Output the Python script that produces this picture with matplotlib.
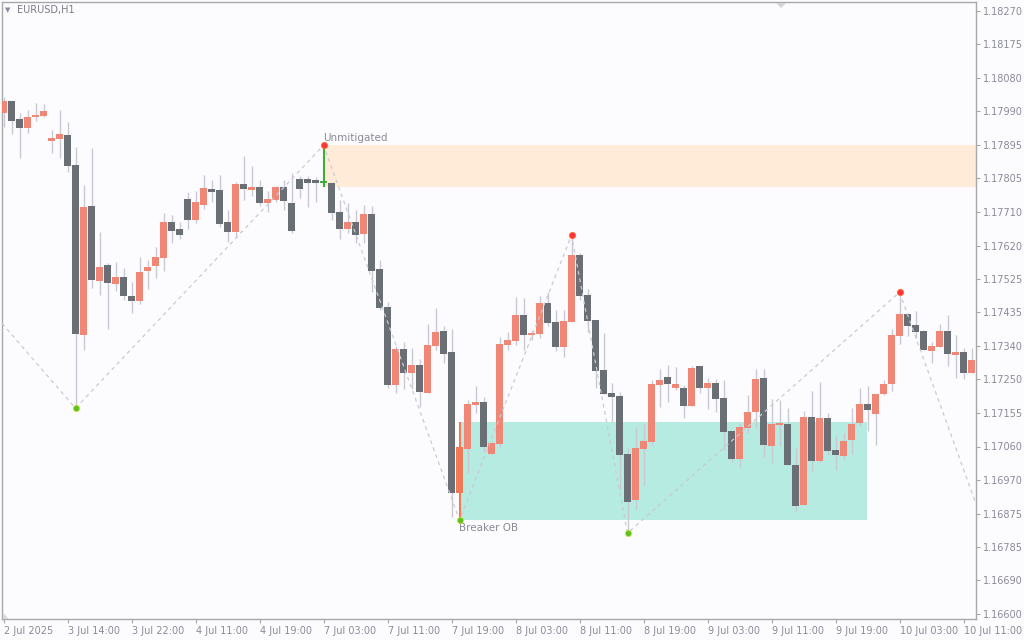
import matplotlib
matplotlib.use("Agg")
from matplotlib import pyplot as plt
from matplotlib.patches import Rectangle, Polygon
import numpy as np

# EURUSD H1 candles
opens = [1.17987, 1.18020, 1.17970, 1.17945, 1.17976, 1.17979, 1.17909, 1.17915, 1.17926, 1.17843,
         1.17372, 1.17729, 1.17522, 1.17566, 1.17513, 1.17533, 1.17480, 1.17466, 1.17549, 1.17563,
         1.17585, 1.17685, 1.17666, 1.17749, 1.17691, 1.17732, 1.17776, 1.17774, 1.17685, 1.17657,
         1.17790, 1.17774, 1.17782, 1.17738, 1.17746, 1.17782, 1.17738, 1.17804, 1.17804, 1.17801,
         1.17793, 1.17793, 1.17713, 1.17666, 1.17685, 1.17652, 1.17707, 1.17555, 1.17450, 1.17234,
         1.17333, 1.17267, 1.17289, 1.17211, 1.17342, 1.17383, 1.17325, 1.16934, 1.17056, 1.17178,
         1.17186, 1.17042, 1.17070, 1.17344, 1.17355, 1.17427, 1.17372, 1.17375, 1.17461, 1.17408,
         1.17339, 1.17408, 1.17594, 1.17483, 1.17414, 1.17275, 1.17211, 1.17203, 1.17042, 1.16915,
         1.17056, 1.17076, 1.17234, 1.17256, 1.17225, 1.17225, 1.17175, 1.17286, 1.17225, 1.17239,
         1.17198, 1.17106, 1.17029, 1.17114, 1.17159, 1.17253, 1.17065, 1.17123, 1.17126, 1.17012,
         1.16901, 1.17145, 1.17023, 1.17142, 1.17054, 1.17037, 1.17081, 1.17128, 1.17181, 1.17153,
         1.17209, 1.17236, 1.17369, 1.17430, 1.17400, 1.17383, 1.17328, 1.17339, 1.17383, 1.17317,
         1.17325, 1.17267]
highs = [1.18031, 1.18020, 1.17987, 1.17995, 1.18015, 1.18012, 1.17940, 1.17995, 1.17962, 1.17893,
         1.17788, 1.17890, 1.17657, 1.17571, 1.17574, 1.17558, 1.17519, 1.17588, 1.17580, 1.17616,
         1.17710, 1.17704, 1.17685, 1.17768, 1.17771, 1.17815, 1.17801, 1.17815, 1.17718, 1.17796,
         1.17868, 1.17840, 1.17801, 1.17771, 1.17785, 1.17801, 1.17821, 1.17812, 1.17812, 1.17810,
         1.17898, 1.17796, 1.17746, 1.17738, 1.17718, 1.17732, 1.17729, 1.17580, 1.17463, 1.17342,
         1.17353, 1.17336, 1.17306, 1.17403, 1.17447, 1.17397, 1.17389, 1.17131, 1.17192, 1.17231,
         1.17200, 1.17076, 1.17367, 1.17380, 1.17477, 1.17475, 1.17386, 1.17480, 1.17491, 1.17441,
         1.17441, 1.17649, 1.17599, 1.17499, 1.17414, 1.17378, 1.17239, 1.17214, 1.17059, 1.17117,
         1.17126, 1.17247, 1.17278, 1.17289, 1.17283, 1.17234, 1.17286, 1.17286, 1.17253, 1.17250,
         1.17247, 1.17106, 1.17128, 1.17206, 1.17278, 1.17278, 1.17195, 1.17192, 1.17170, 1.17059,
         1.17162, 1.17217, 1.17242, 1.17156, 1.17092, 1.17101, 1.17170, 1.17225, 1.17231, 1.17209,
         1.17247, 1.17389, 1.17491, 1.17433, 1.17439, 1.17386, 1.17353, 1.17403, 1.17427, 1.17372,
         1.17336, 1.17336]
lows = [1.17948, 1.17929, 1.17862, 1.17932, 1.17965, 1.17976, 1.17876, 1.17862, 1.17824, 1.17170,
        1.17330, 1.17502, 1.17483, 1.17389, 1.17494, 1.17469, 1.17433, 1.17458, 1.17499, 1.17530,
        1.17549, 1.17627, 1.17638, 1.17666, 1.17682, 1.17721, 1.17740, 1.17671, 1.17630, 1.17644,
        1.17746, 1.17757, 1.17729, 1.17713, 1.17740, 1.17718, 1.17655, 1.17752, 1.17727, 1.17740,
        1.17782, 1.17691, 1.17638, 1.17655, 1.17627, 1.17627, 1.17491, 1.17441, 1.17225, 1.17211,
        1.17222, 1.17222, 1.17173, 1.17211, 1.17330, 1.17294, 1.16868, 1.16860, 1.16990, 1.17156,
        1.17048, 1.17042, 1.17062, 1.17330, 1.17344, 1.17330, 1.17358, 1.17364, 1.17397, 1.17328,
        1.17311, 1.17408, 1.17469, 1.17380, 1.17225, 1.17209, 1.17131, 1.16943, 1.16824, 1.16890,
        1.16957, 1.17067, 1.17173, 1.17186, 1.17220, 1.17142, 1.17175, 1.17211, 1.17167, 1.17159,
        1.17054, 1.17020, 1.17006, 1.17101, 1.17114, 1.17034, 1.17017, 1.17065, 1.17012, 1.16885,
        1.16901, 1.16995, 1.17020, 1.17040, 1.16998, 1.17029, 1.17042, 1.17120, 1.17106, 1.17067,
        1.17206, 1.17217, 1.17347, 1.17369, 1.17364, 1.17330, 1.17294, 1.17339, 1.17286, 1.17253,
        1.17250, 1.17267]
closes = [1.18020, 1.17965, 1.17945, 1.17976, 1.17981, 1.17993, 1.17918, 1.17929, 1.17840, 1.17375,
          1.17727, 1.17524, 1.17560, 1.17516, 1.17533, 1.17480, 1.17466, 1.17547, 1.17560, 1.17588,
          1.17685, 1.17660, 1.17649, 1.17691, 1.17740, 1.17779, 1.17768, 1.17680, 1.17657, 1.17790,
          1.17776, 1.17782, 1.17738, 1.17749, 1.17782, 1.17743, 1.17660, 1.17776, 1.17793, 1.17793,
          1.17799, 1.17710, 1.17666, 1.17685, 1.17649, 1.17707, 1.17549, 1.17447, 1.17234, 1.17333,
          1.17267, 1.17289, 1.17214, 1.17344, 1.17380, 1.17319, 1.16934, 1.17062, 1.17181, 1.17186,
          1.17062, 1.17073, 1.17347, 1.17358, 1.17427, 1.17372, 1.17378, 1.17461, 1.17405, 1.17339,
          1.17411, 1.17594, 1.17480, 1.17411, 1.17272, 1.17209, 1.17200, 1.17040, 1.16909, 1.17059,
          1.17078, 1.17236, 1.17247, 1.17236, 1.17236, 1.17175, 1.17281, 1.17225, 1.17239, 1.17195,
          1.17103, 1.17029, 1.17117, 1.17159, 1.17250, 1.17067, 1.17126, 1.17128, 1.17012, 1.16898,
          1.17145, 1.17023, 1.17142, 1.17051, 1.17040, 1.17078, 1.17126, 1.17181, 1.17164, 1.17209,
          1.17236, 1.17372, 1.17430, 1.17397, 1.17380, 1.17330, 1.17342, 1.17383, 1.17319, 1.17325,
          1.17267, 1.17303]

price_labels = ["1.16600", "1.16690", "1.16785", "1.16875", "1.16970", "1.17060", "1.17155",
                "1.17250", "1.17340", "1.17435", "1.17525", "1.17620", "1.17710", "1.17805",
                "1.17895", "1.17990", "1.18080", "1.18175", "1.18270"]
time_ticks = [0, 8, 16, 24, 32, 40, 48, 56, 64, 72, 80, 88, 96, 104, 112, 120]
time_labels = ["2 Jul 2025", "3 Jul 14:00", "3 Jul 22:00", "4 Jul 11:00", "4 Jul 19:00",
               "7 Jul 03:00", "7 Jul 11:00", "7 Jul 19:00", "8 Jul 03:00", "8 Jul 11:00",
               "8 Jul 19:00", "9 Jul 03:00", "9 Jul 11:00", "9 Jul 19:00", "10 Jul 03:00",
               "10 Jul 11:00"]

# zigzag swings
swing_highs = [40, 71, 112]
swing_lows = [9, 57, 78]
zz_start = 1.17405   # leg coming in from the left edge
zz_end = 1.16905     # leg leaving at the right edge

unmitigated_bar = 40
breaker_bar = 57
breaker_end = 107.9

SALMON = "#EF8676"
GRAY = "#6A6E75"
WICK = "#C8C9D2"
GREEN = "#3DAE3D"
ORANGE = "#F07A55"
TXT = "#8A8A96"
BG = "#FCFCFE"

o = np.array(opens)
h = np.array(highs)
l = np.array(lows)
c = np.array(closes)
n = len(o)
x = np.arange(n)

body_col = [SALMON if c[i] >= o[i] else GRAY for i in range(n)]
wick_col = [WICK] * n
body_col[unmitigated_bar] = GREEN
wick_col[unmitigated_bar] = GREEN
body_col[breaker_bar] = ORANGE
wick_col[breaker_bar] = ORANGE

fig = plt.figure(figsize=(10.24, 6.4), dpi=100, facecolor=BG)
ax = fig.add_axes([2 / 1024, 21 / 640, 974 / 1024, 617 / 640])
ax.set_facecolor(BG)

xmin, xmax = -0.1875, 121.5625
pp = (1.18270 - 1.16600) / 603
ax.set_xlim(xmin, xmax)
ax.set_ylim(1.16600 - 5 * pp, 1.18270 + 9 * pp)

# zones
ax.add_patch(Rectangle((unmitigated_bar, l[unmitigated_bar]), xmax - unmitigated_bar,
                       h[unmitigated_bar] - l[unmitigated_bar], color="#FFEBD7", lw=0, zorder=0))
ax.add_patch(Rectangle((breaker_bar, l[breaker_bar]), breaker_end - breaker_bar,
                       h[breaker_bar] - l[breaker_bar], color="#B5EBE1", lw=0, zorder=0))

# candles
lw = [1.5 if i in (unmitigated_bar, breaker_bar) else 1.0 for i in range(n)]
ax.vlines(x, l, h, colors=wick_col, linewidths=lw, zorder=2)
bottom = np.minimum(o, c)
height = np.maximum(np.abs(c - o), 0.6 * pp)
ax.bar(x, height, bottom=bottom, width=0.86, color=body_col, linewidth=0, zorder=3)

# zigzag
zz_x = [xmin] + sorted(swing_highs + swing_lows) + [xmax]
zz_y = [zz_start]
for i in sorted(swing_highs + swing_lows):
    zz_y.append(h[i] if i in swing_highs else l[i])
zz_y.append(zz_end)
ax.plot(zz_x, zz_y, color="#C9CAD4", lw=0.9, ls=(0, (3, 3)), zorder=4)

ax.plot(swing_highs, h[swing_highs], "o", color="#FF3535", ms=4.5, mec="#FF6A3A", mew=0.6, zorder=5)
ax.plot(swing_lows, l[swing_lows], "o", color="#5DC21E", ms=4.5, mec="#C8E040", mew=0.6, zorder=5)

ax.annotate("Unmitigated", (unmitigated_bar - 0.1, h[unmitigated_bar]), xytext=(0, 1.5),
            textcoords="offset points", ha="left", va="bottom", fontsize=7.5, color=TXT)
ax.annotate("Breaker OB", (breaker_bar - 0.1, l[breaker_bar]), xytext=(0, -2),
            textcoords="offset points", ha="left", va="top", fontsize=7.5, color=TXT)

# axes
for s in ("left", "right", "bottom", "top"):
    ax.spines[s].set_color("#A8A8A8")
    ax.spines[s].set_linewidth(1.0)

ax.yaxis.tick_right()
ax.set_yticks(np.linspace(1.16600, 1.18270, len(price_labels)))
ax.set_yticklabels(price_labels)
ax.tick_params(axis="y", direction="out", length=3, width=0.8, colors="#A8A8A8",
               labelcolor="#8A8A9A", labelsize=7, pad=2)

ax.set_xticks(time_ticks)
ax.set_xticklabels(time_labels, ha="left")
ax.tick_params(axis="x", direction="out", length=3, width=0.8, colors="#A8A8A8",
               labelcolor="#8A8A9A", labelsize=7, pad=2)

# small chart-window markers
fig.patches.append(Polygon([[776 / 1024, 1 - 3 / 640], [786 / 1024, 1 - 3 / 640], [781 / 1024, 1 - 8 / 640]],
                           closed=True, transform=fig.transFigure, color="#D4D4DC", lw=0))
fig.patches.append(Polygon([[3 / 1024, 1 - 613 / 640], [3 / 1024, 1 - 619 / 640], [9 / 1024, 1 - 619 / 640]],
                           closed=True, transform=fig.transFigure, color="#D8D8E4", lw=0))

fig.text(5 / 1024, 1 - 10 / 640, "\u25BC", fontsize=5, color="#8A8A9A", va="center", ha="left")
fig.text(17 / 1024, 1 - 10 / 640, "EURUSD,H1", fontsize=7, color="#7A7A8A", va="center", ha="left")

fig.savefig("out.png", dpi=100, facecolor=BG)
